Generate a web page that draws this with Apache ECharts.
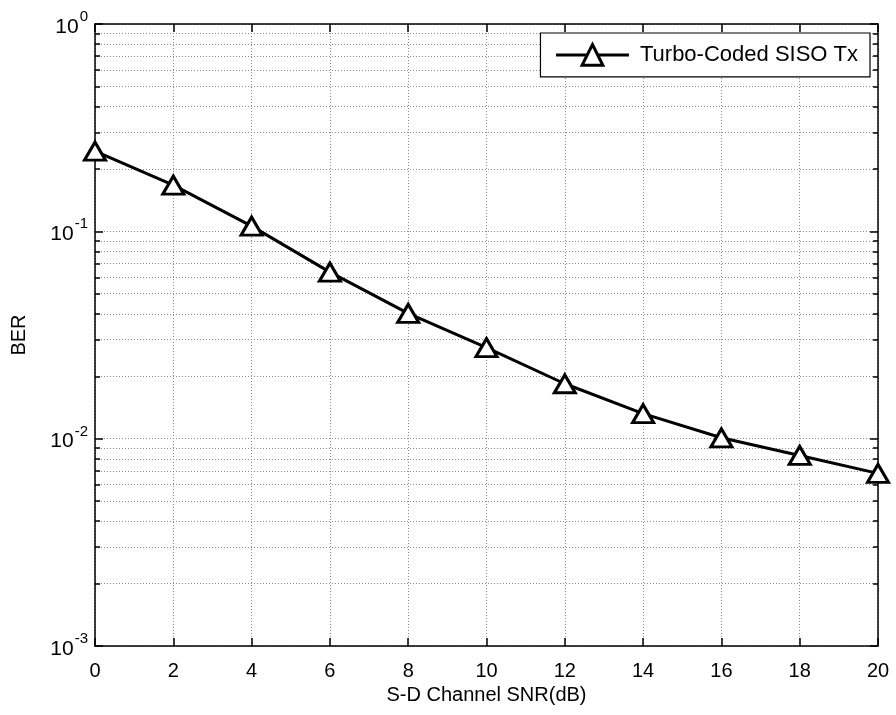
<!DOCTYPE html>
<html><head><meta charset="utf-8">
<script src="https://cdn.jsdelivr.net/npm/echarts@6/dist/echarts.min.js"></script>
<style>html,body{margin:0;padding:0;background:#fff}#c{width:896px;height:715px}</style>
</head><body><div id="c"></div>
<script>
const snr = [0, 2, 4, 6, 8, 10, 12, 14, 16, 18, 20];
const ber = [0.244, 0.167, 0.106, 0.0636, 0.0402, 0.0275, 0.0184, 0.0132, 0.0101, 0.0083, 0.0068];
const seriesName = 'Turbo-Coded SISO Tx';
const xTitle = 'S-D Channel SNR(dB)';
const yTitle = 'BER';
const xTicks = { min: 0, max: 20, step: 2 };
const yRange = { min: 0.001, max: 1 };

const font = 'Liberation Sans, Arial, sans-serif';
const gridLine = { show: true, lineStyle: { color: '#8a8a8a', type: [1, 2], width: 1 } };
const axisLn = { show: true, onZero: false, lineStyle: { color: '#000', width: 1.5 } };

const chart = echarts.init(document.getElementById('c'), null, { renderer: 'canvas' });
chart.setOption({
  animation: false,
  backgroundColor: '#fff',
  grid: { left: 95, right: 18, top: 24, bottom: 69, containLabel: false },
  legend: {
    data: [seriesName],
    right: 26, top: 33,
    backgroundColor: '#fff', borderColor: '#000', borderWidth: 1.2,
    padding: [10, 12, 10, 14],
    itemWidth: 73, itemHeight: 26, itemGap: 0,
    lineStyle: { width: 3, color: '#000' },
    itemStyle: { color: '#fff', borderColor: '#000', borderWidth: 3 },
    textStyle: { fontFamily: font, fontSize: 22, color: '#000', padding: [0, 8, 0, 6] }
  },
  xAxis: [{
    type: 'value', min: xTicks.min, max: xTicks.max, interval: xTicks.step,
    position: 'bottom',
    axisLine: axisLn,
    axisTick: { show: true, inside: true, length: 8, lineStyle: { color: '#000', width: 1.5 } },
    axisLabel: { fontFamily: font, fontSize: 20, color: '#000', margin: 15 },
    splitLine: gridLine,
    name: xTitle, nameLocation: 'middle', nameGap: 28,
    nameTextStyle: { fontFamily: font, fontSize: 20, color: '#000' }
  }, {
    type: 'value', min: xTicks.min, max: xTicks.max, interval: xTicks.step,
    position: 'top',
    axisLine: axisLn,
    axisTick: { show: true, inside: true, length: 8, lineStyle: { color: '#000', width: 1.5 } },
    axisLabel: { show: false }, splitLine: { show: false }
  }],
  yAxis: [{
    type: 'log', logBase: 10, min: yRange.min, max: yRange.max,
    position: 'left',
    axisLine: axisLn,
    axisTick: { show: true, inside: true, length: 8, lineStyle: { color: '#000', width: 1.5 } },
    minorTick: { show: true, splitNumber: 9, length: 5, lineStyle: { color: '#000', width: 1.5 } },
    splitLine: gridLine,
    minorSplitLine: gridLine,
    axisLabel: {
      margin: 7,
      formatter: function (v) { return '{b|10}{s|' + Math.round(Math.log10(v)) + '}'; },
      rich: {
        b: { fontFamily: font, fontSize: 21, color: '#000', padding: [6, 0, 0, 0] },
        s: { fontFamily: font, fontSize: 15, color: '#000', padding: [0, 0, 14, 1] }
      }
    },
    name: yTitle, nameLocation: 'middle', nameGap: 66, nameRotate: 90,
    nameTextStyle: { fontFamily: font, fontSize: 20, color: '#000' }
  }, {
    type: 'log', logBase: 10, min: yRange.min, max: yRange.max,
    position: 'right',
    axisLine: axisLn,
    axisTick: { show: true, inside: true, length: 8, lineStyle: { color: '#000', width: 1.5 } },
    minorTick: { show: true, splitNumber: 9, length: 5, lineStyle: { color: '#000', width: 1.5 } },
    axisLabel: { show: false }, splitLine: { show: false }
  }],
  series: [{
    name: seriesName, type: 'line',
    data: snr.map((x, i) => [x, ber[i]]),
    xAxisIndex: 0, yAxisIndex: 0,
    symbol: 'triangle', symbolSize: [21, 18],
    lineStyle: { color: '#000', width: 3 },
    itemStyle: { color: '#fff', borderColor: '#000', borderWidth: 3 },
    z: 5
  }]
});
</script></body></html>
